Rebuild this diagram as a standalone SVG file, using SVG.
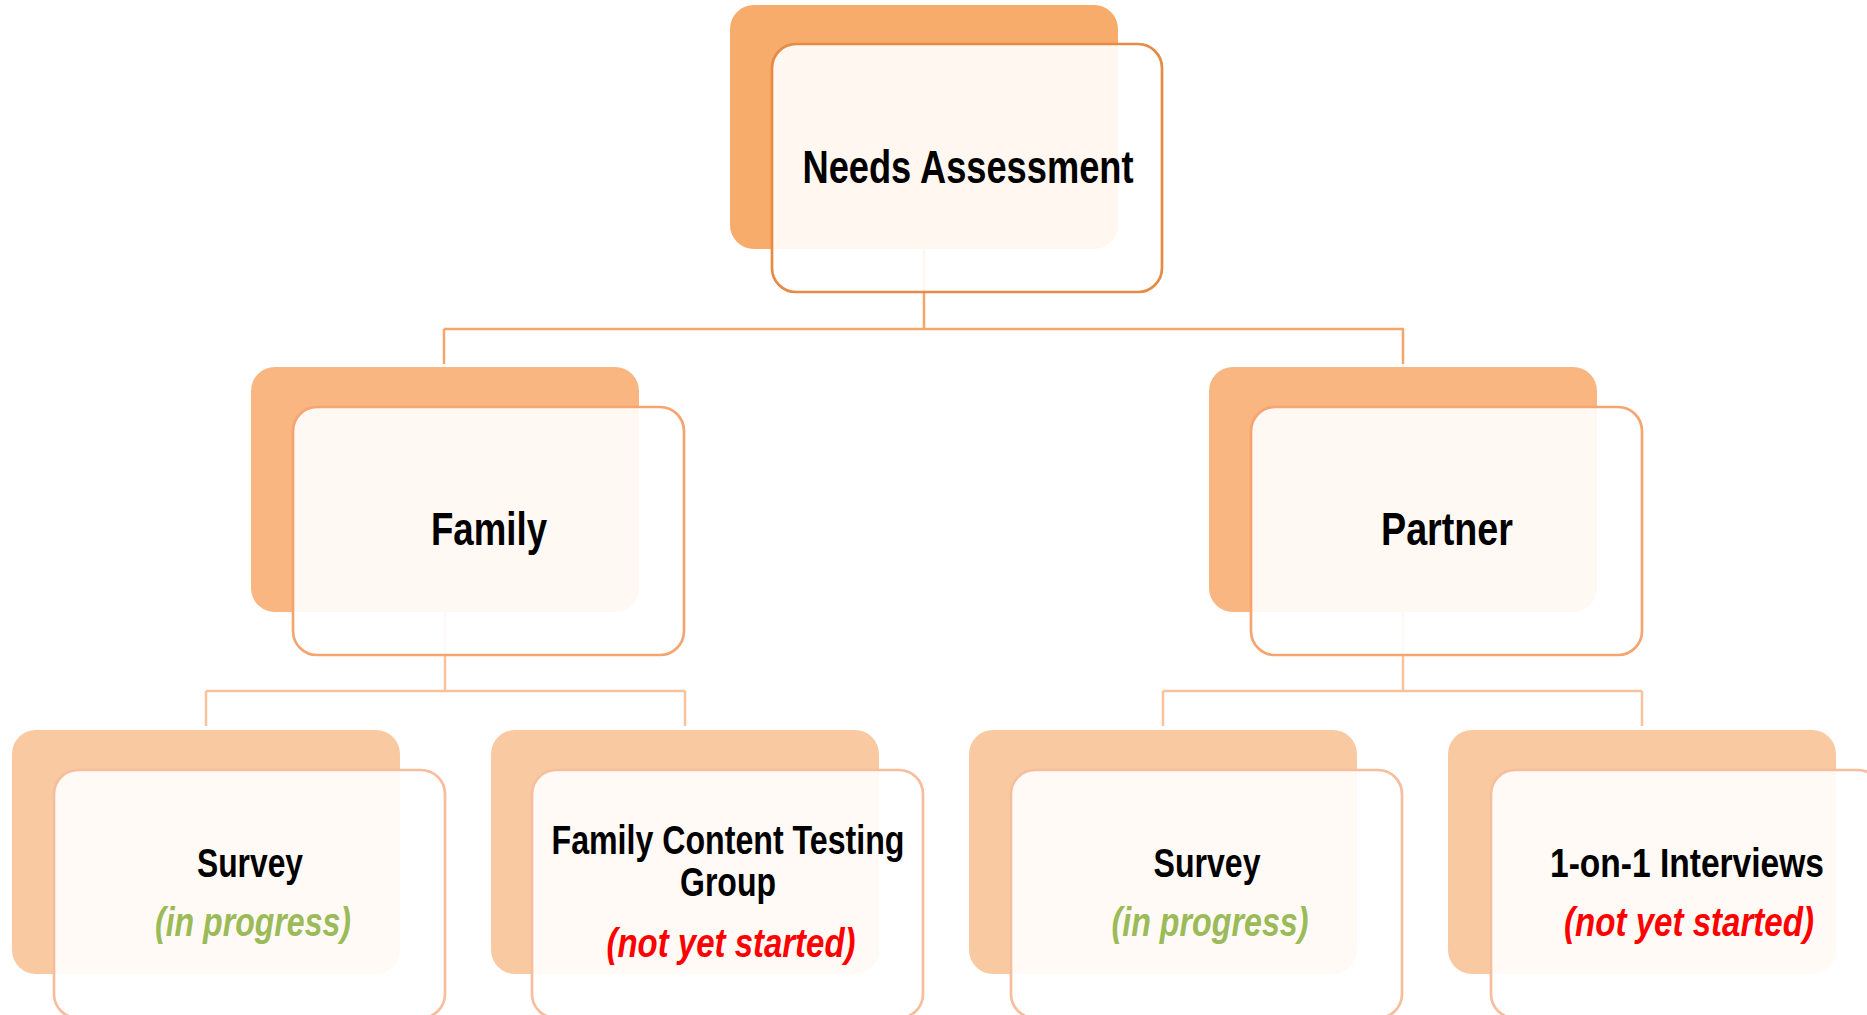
<svg xmlns="http://www.w3.org/2000/svg" width="1867" height="1015" viewBox="0 0 1867 1015">
<style>
  .t { font-family: "Liberation Sans", Arial, sans-serif; font-weight: bold; fill: #000; text-anchor: middle; }
  .s { font-family: "Liberation Sans", Arial, sans-serif; font-weight: bold; font-style: italic; text-anchor: middle; }
  .green { fill: #9BBB59; }
  .red { fill: #FF0000; }
  .back1 { fill: #F8AC6C; }
  .back2 { fill: #F9B681; }
  .back3 { fill: #F9CAA2; }
  .front { fill: #FFFFFF; fill-opacity: 0.9; stroke-width: 2.7; }
  .f1 { stroke: #E68A45; }
  .f2 { stroke: #F6A571; }
  .f3 { stroke: #F7BE9E; }
  .c1 { fill: none; stroke: #F5A56B; stroke-width: 2.5; }
  .c2 { fill: none; stroke: #F9C19C; stroke-width: 2.5; }
</style>
<rect width="1867" height="1015" fill="#FFFFFF"/>
<g id="connectors">
  <path class="c1" d="M924 249 V329 M444 329 H1404 M444 329 V364 M1403 329 V364"/>
  <path class="c2" d="M445 612 V691 M206 691 H685 M206 691 V726 M685 691 V726"/>
  <path class="c2" d="M1403 612 V691 M1163 691 H1642 M1163 691 V726 M1642 691 V726"/>
</g>
<g id="node-needs-assessment">
  <rect class="back1" x="730" y="5" width="388" height="244" rx="24"/>
  <rect class="front f1" x="772" y="44" width="390" height="248" rx="24"/>
  <text class="t" x="968" y="183" font-size="46" textLength="331" lengthAdjust="spacingAndGlyphs">Needs Assessment</text>
</g>
<g id="node-family">
  <rect class="back2" x="251" y="367" width="388" height="245" rx="24"/>
  <rect class="front f2" x="293" y="407" width="391" height="248" rx="24"/>
  <text class="t" x="489" y="545" font-size="46" textLength="116" lengthAdjust="spacingAndGlyphs">Family</text>
</g>
<g id="node-partner">
  <rect class="back2" x="1209" y="367" width="388" height="245" rx="24"/>
  <rect class="front f2" x="1251" y="407" width="391" height="248" rx="24"/>
  <text class="t" x="1447" y="545" font-size="46" textLength="132" lengthAdjust="spacingAndGlyphs">Partner</text>
</g>
<g id="node-family-survey">
  <rect class="back3" x="12" y="730" width="388" height="244" rx="24"/>
  <rect class="front f3" x="54" y="770" width="391" height="248" rx="24"/>
  <text class="t" x="250" y="877" font-size="41" textLength="106" lengthAdjust="spacingAndGlyphs">Survey</text>
  <text class="s green" x="253" y="936" font-size="41" textLength="196" lengthAdjust="spacingAndGlyphs">(in progress)</text>
</g>
<g id="node-family-content-testing">
  <rect class="back3" x="491" y="730" width="388" height="244" rx="24"/>
  <rect class="front f3" x="532" y="770" width="391" height="248" rx="24"/>
  <text class="t" x="728" y="854" font-size="41" textLength="353" lengthAdjust="spacingAndGlyphs">Family Content Testing</text>
  <text class="t" x="728" y="896" font-size="41" textLength="96" lengthAdjust="spacingAndGlyphs">Group</text>
  <text class="s red" x="731" y="957" font-size="41" textLength="249" lengthAdjust="spacingAndGlyphs">(not yet started)</text>
</g>
<g id="node-partner-survey">
  <rect class="back3" x="969" y="730" width="388" height="244" rx="24"/>
  <rect class="front f3" x="1011" y="770" width="391" height="248" rx="24"/>
  <text class="t" x="1207" y="877" font-size="41" textLength="107" lengthAdjust="spacingAndGlyphs">Survey</text>
  <text class="s green" x="1210" y="936" font-size="41" textLength="197" lengthAdjust="spacingAndGlyphs">(in progress)</text>
</g>
<g id="node-interviews">
  <rect class="back3" x="1448" y="730" width="388" height="244" rx="24"/>
  <rect class="front f3" x="1491" y="770" width="391" height="248" rx="24"/>
  <text class="t" x="1687" y="877" font-size="41" textLength="274" lengthAdjust="spacingAndGlyphs">1-on-1 Interviews</text>
  <text class="s red" x="1689" y="936" font-size="41" textLength="250" lengthAdjust="spacingAndGlyphs">(not yet started)</text>
</g>
</svg>
